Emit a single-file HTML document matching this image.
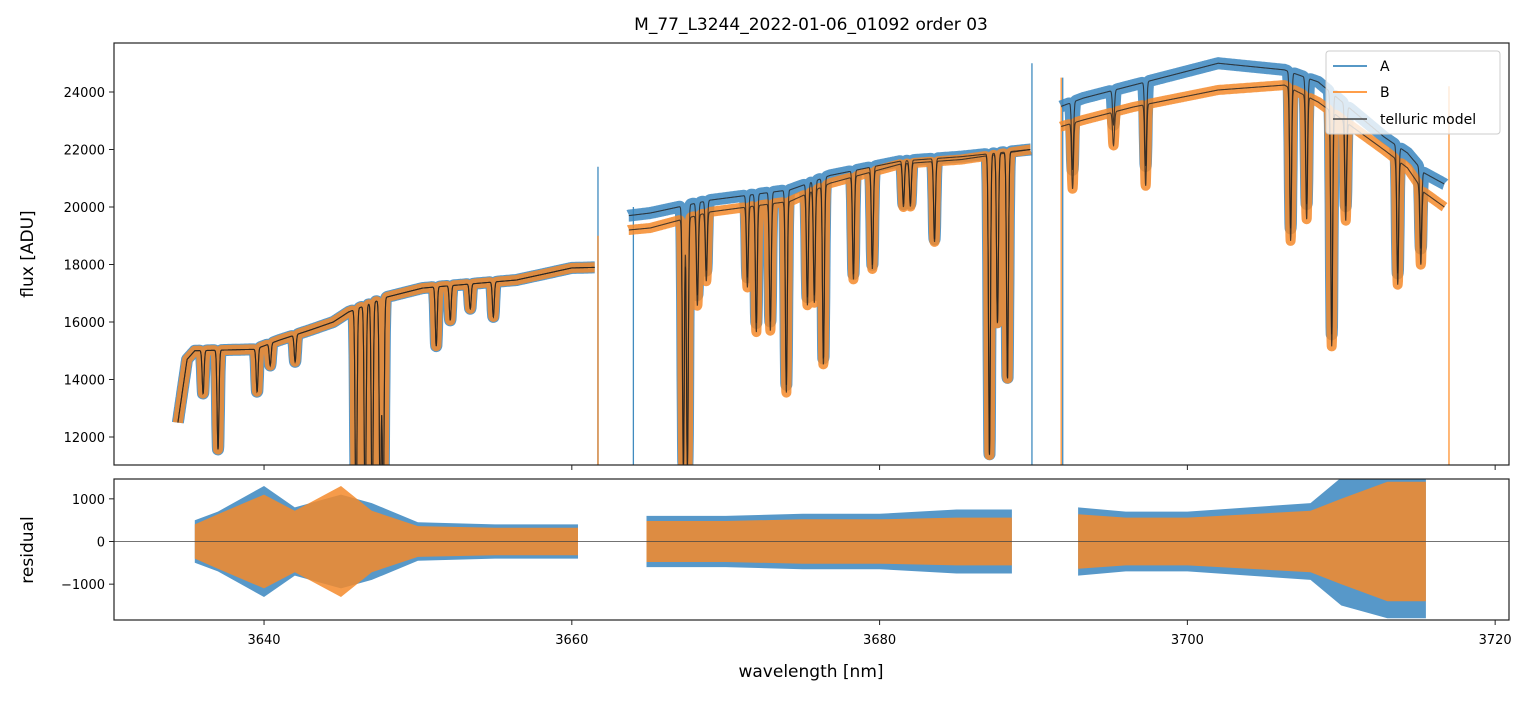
<!DOCTYPE html>
<html><head><meta charset="utf-8"><style>
body{margin:0;background:#fff;font-family:"Liberation Sans","DejaVu Sans",sans-serif}
svg text{font-family:"DejaVu Sans","Liberation Sans",sans-serif}
</style></head><body>
<svg id="c" width="1531" height="696" xmlns="http://www.w3.org/2000/svg">
<text x="811" y="30" font-size="17" text-anchor="middle">M_77_L3244_2022-01-06_01092  order 03</text>
<g id="gtop"></g><g id="gbot"></g>
<text x="811" y="677" font-size="17" text-anchor="middle">wavelength [nm]</text>
<text transform="translate(33,254) rotate(-90)" font-size="17" text-anchor="middle">flux [ADU]</text>
<text transform="translate(33,550) rotate(-90)" font-size="17" text-anchor="middle">residual</text>
</svg>
<script>
// ---- data ----
const contWl=[3634.4,3635.0,3635.5,3639.4,3641,3643,3644.5,3645.5,3648,3650.3,3656.4,3660,3661.5, null, 3663.7,3665.1,3669.0,3674.2,3676.8,3681.4,3685.3,3689.8, null, 3691.8,3693.25,3696.5,3702.0,3706.3,3708.5,3712.8,3714.3,3715.4,3716.7];
const contA=[12500,14700,15000,15050,15370,15720,16000,16350,16870,17180,17460,17880,17900, null, 19700,19790,20240,20600,21100,21600,21750,22000, null, 23500,23790,24240,25000,24770,24350,22430,21880,21180,20800];
const contB=[12500,14700,15000,15050,15370,15720,16000,16350,16870,17180,17460,17880,17900, null, 19200,19270,19830,20200,20830,21500,21650,22000, null, 22800,23030,23480,24070,24240,23650,21980,21360,20500,20000];
const lineWl=[3636.04,3637.01,3639.55,3640.4,3642.02,3645.98,3646.57,3647.03,3647.55,3647.74,3651.19,3652.1,3653.4,3654.9,3667.25,3667.51,3668.16,3668.74,3671.41,3671.99,3672.9,3673.94,3675.31,3675.76,3676.35,3678.3,3679.53,3681.55,3682.0,3683.57,3687.14,3687.66,3688.31,3692.54,3695.2,3697.29,3706.71,3707.75,3709.38,3710.29,3713.67,3715.17];
const lineDepth=[0.1,0.23,0.1,0.05,0.06,0.45,0.45,0.45,0.45,0.45,0.12,0.07,0.05,0.07,0.45,0.45,0.16,0.12,0.14,0.22,0.22,0.33,0.19,0.19,0.3,0.17,0.16,0.07,0.07,0.13,0.48,0.27,0.36,0.1,0.05,0.12,0.22,0.18,0.35,0.15,0.2,0.13];
const resWl=[3635.5,3637,3640,3642,3645,3647,3650,3655,3660.4,null,3664.85,3670,3675,3680,3685,3688.6,null,3692.9,3696,3700,3704,3708,3710,3713,3715.5];
const resA=[500,700,1300,800,1100,900,450,400,400,null,600,600,650,650,750,750,null,800,700,700,800,900,1500,1800,1800];
const resB=[400,640,1100,720,1300,720,360,320,320,null,480,480,520,520,560,560,null,640,560,560,640,720,1000,1400,1400];
const spikeWl=[3661.7,3661.7,3664.0,3689.9,3691.8,3691.9,3717.0];
const spikeTop=[21400,19000,20000,25000,24500,24500,24200];
const spikeSer=['A','B','A','A','B','A','B'];
const xTicks=[3640,3660,3680,3700,3720];
const yTicks=[12000,14000,16000,18000,20000,22000,24000];
const rTicks=[-1000,0,1000];
// ---- scales ----
const X0=114,X1=1509,T0=43,T1=465,B0=479,B1=620;
const wmin=3630.25,wmax=3720.9,fmin=11026,fmax=25704,rmin=-1840,rmax=1465;
const sx=w=>X0+(w-wmin)/(wmax-wmin)*(X1-X0);
const sy=f=>T1-(f-fmin)/(fmax-fmin)*(T1-T0);
const sr=r=>B1-(r-rmin)/(rmax-rmin)*(B1-B0);
const NS='http://www.w3.org/2000/svg';
function mk(p,t,a){const e=document.createElementNS(NS,t);for(const k in a)e.setAttribute(k,a[k]);p.appendChild(e);return e;}
const gTop=document.getElementById('gtop'),gBot=document.getElementById('gbot');
const defs=mk(document.getElementById('c'),'defs',{});
const cp1=mk(defs,'clipPath',{id:'cp1'});mk(cp1,'rect',{x:X0,y:T0,width:X1-X0,height:T1-T0});
const cp2=mk(defs,'clipPath',{id:'cp2'});mk(cp2,'rect',{x:X0,y:B0,width:X1-X0,height:B1-B0});
function segs(wl,v){const out=[];let cur=[];wl.forEach((w,i)=>{if(w===null){out.push(cur);cur=[];}else cur.push([w,v[i]]);});out.push(cur);return out;}
function interp(seg,w){for(let i=0;i<seg.length-1;i++){if(w>=seg[i][0]&&w<=seg[i+1][0]){const t=(w-seg[i][0])/(seg[i+1][0]-seg[i][0]);return seg[i][1]+t*(seg[i+1][1]-seg[i][1]);}}return seg[seg.length-1][1];}
function model(seg,w){let f=interp(seg,w);let m=1;lineWl.forEach((lw,i)=>{const z=(w-lw)/0.06;m*=1-lineDepth[i]*Math.exp(-(z*z)/2);});return f*m;}
function modelPath(cont){let d='';segs(contWl,cont).forEach(seg=>{const a=seg[0][0],b=seg[seg.length-1][0];let first=true;for(let w=a;w<=b;w+=0.015){d+=(first?'M':'L')+sx(w).toFixed(1)+','+sy(model(seg,w)).toFixed(1);first=false;}});return d;}
const gA=mk(gTop,'g',{'clip-path':'url(#cp1)'});
spikeWl.forEach((w,i)=>{const l=mk(gA,'line',{x1:sx(w),x2:sx(w),y1:sy(spikeTop[i]),y2:T1,stroke:spikeSer[i]==='A'?'#1f77b4':'#ff7f0e','stroke-width':1.3,opacity:0.85});

});
const pA=mk(gA,'path',{d:modelPath(contA),fill:'none',stroke:'#3a86c0','stroke-width':12,'stroke-linejoin':'round',opacity:0.85});


const pB=mk(gA,'path',{d:modelPath(contB),fill:'none',stroke:'#f58a2a','stroke-width':10,'stroke-linejoin':'round',opacity:0.85});


const mA=mk(gA,'path',{d:modelPath(contA),fill:'none',stroke:'#222','stroke-width':1.1,opacity:0.8});


const mB=mk(gA,'path',{d:modelPath(contB),fill:'none',stroke:'#222','stroke-width':1.1,opacity:0.8});


const gB=mk(gBot,'g',{'clip-path':'url(#cp2)'});
function band(vals,col,nm){segs(resWl,vals).forEach(seg=>{let up=seg.map(p=>sx(p[0]).toFixed(1)+','+sr(p[1]).toFixed(1));let dn=seg.slice().reverse().map(p=>sx(p[0]).toFixed(1)+','+sr(-p[1]).toFixed(1));
const e=mk(gB,'polygon',{points:up.concat(dn).join(' '),fill:col,opacity:0.85});

});}
band(resA,'#3a86c0','residual-a');
band(resB,'#f58a2a','residual-b');
mk(gBot,'line',{x1:X0,x2:X1,y1:sr(0),y2:sr(0),stroke:'#444','stroke-width':0.8});
const f1=mk(gTop,'rect',{x:X0,y:T0,width:X1-X0,height:T1-T0,fill:'none',stroke:'#222','stroke-width':1.2});


const f2=mk(gBot,'rect',{x:X0,y:B0,width:X1-X0,height:B1-B0,fill:'none',stroke:'#222','stroke-width':1.2});


xTicks.forEach(t=>{const x=sx(t);mk(gTop,'line',{x1:x,x2:x,y1:T1,y2:T1+5,stroke:'#222'});mk(gBot,'line',{x1:x,x2:x,y1:B1,y2:B1+5,stroke:'#222'});
const tx=mk(gBot,'text',{x:x,y:B1+24,'font-size':13,'text-anchor':'middle'});tx.textContent=t;

});
yTicks.forEach(t=>{const y=sy(t);mk(gTop,'line',{x1:X0-5,x2:X0,y1:y,y2:y,stroke:'#222'});
const tx=mk(gTop,'text',{x:X0-9,y:y+5,'font-size':13,'text-anchor':'end'});tx.textContent=t;

});
rTicks.forEach(t=>{const y=sr(t);mk(gBot,'line',{x1:X0-5,x2:X0,y1:y,y2:y,stroke:'#222'});
const tx=mk(gBot,'text',{x:X0-9,y:y+5,'font-size':13,'text-anchor':'end'});tx.textContent=t<0?'\u2212'+(-t):t;

});
const lg=mk(gTop,'g',{});


mk(lg,'rect',{x:1326,y:51,width:174,height:83,rx:3,fill:'#fff','fill-opacity':0.8,stroke:'#ccc'});
[['A','#1f77b4',66],['B','#ff7f0e',92],['telluric model','#444',119]].forEach(([n,c,y])=>{mk(lg,'line',{x1:1333,x2:1367,y1:y,y2:y,stroke:c,'stroke-width':1.5});
const tx=mk(lg,'text',{x:1380,y:y+5,'font-size':14});tx.textContent=n;

});
</script>
</body></html>
